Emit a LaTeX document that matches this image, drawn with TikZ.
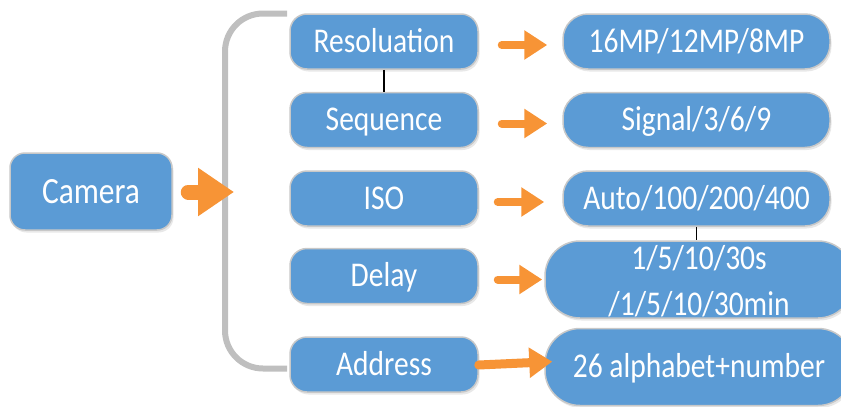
\documentclass[tikz,border=0pt]{standalone}
\usepackage{fontspec}
\setmainfont{Carlito}[FakeStretch=0.85]
\usetikzlibrary{arrows.meta,shadows}
\definecolor{boxblue}{RGB}{91,155,213}
\definecolor{arrorange}{RGB}{247,148,54}
\definecolor{edgegray}{RGB}{200,200,200}
\definecolor{brkgray}{RGB}{191,191,191}
\begin{document}
\begin{tikzpicture}[x=1pt,y=-1pt,
        box/.style={rectangle,fill=boxblue,draw=edgegray,line width=1.5pt,
            text=white,inner sep=0pt,font=\fontsize{34.7}{42}\selectfont,
            text height=27.8pt,text depth=5.9pt,align=center,
            drop shadow={opacity=0.18,shadow xshift=1.5pt,shadow yshift=-2.5pt}},
        item/.style={box,minimum width=188pt,minimum height=55pt,rounded corners=17pt},
        value/.style={box,minimum width=267pt,minimum height=55pt,rounded corners=25pt},
        bigvalue/.style={box,minimum width=308pt,minimum height=77pt,rounded corners=35pt},
        arr/.style={draw=arrorange,line width=8pt,line cap=round,
            -{Triangle[length=23pt,width=28pt]}},
        lowarr/.style={arr,transform canvas={yshift=-3.5pt}}]
\useasboundingbox (0,0) rectangle (841,407);

% bracket
\draw[brkgray,line width=6pt,rounded corners=38pt] (287,13.5) -| (225,368.5) -- (287,368.5);

\node[box,minimum width=162pt,minimum height=77pt,rounded corners=15pt,
    font=\fontsize{37}{44}\selectfont,text height=29.6pt,text depth=6.3pt]
    (cam) at (91,191.5) {Camera};

\node[item] (res) at (384,41.5) {Resoluation};
\node[item] (seq) at (384,120) {Sequence};
\node[item] (iso) at (384,198.5) {ISO};
\node[item] (delay) at (384,276) {Delay};
\node[item] (addr) at (384,364.5) {Address};

\node[value] (resv) at (696.5,41.5) {16MP/12MP/8MP};
\node[value] (seqv) at (696.5,120) {Signal/3/6/9};
\node[value] (isov) at (696.5,198.5) {Auto/100/200/400};
\node[bigvalue,font=\fontsize{34.7}{46}\selectfont,text height=71pt,text depth=0pt]
    (delayv) at (699,279.5) {1/5/10/30s\\/1/5/10/30min};
\node[bigvalue] (addrv) at (699,367) {26 alphabet+number};

\draw[line width=1.2pt] (res) -- (seq);
\draw[line width=1.2pt] (isov.south) -- (isov.south |- delayv.north);

\coordinate (brk) at (234,192);
\draw[arr,line width=15pt,-{Triangle[length=36pt,width=46pt]},shorten <=15.5pt]
    (cam.east |- brk) -- (brk);

\draw[lowarr,shorten <=23pt,shorten >=15pt] (res) -- (resv);
\draw[lowarr,shorten <=23pt,shorten >=15pt] (seq) -- (seqv);
\draw[lowarr,shorten <=19pt,shorten >=18pt] (iso) -- (isov);
\draw[lowarr,shorten <=19pt,shorten >=2pt] (delay) -- (delay -| delayv.west);
\draw[arr,line width=9pt,-{Triangle[length=23pt,width=29pt]},shorten >=-8pt]
    ([yshift=-0.5pt]addr.east) -- ([yshift=5pt]addrv.west);
\end{tikzpicture}
\end{document}
